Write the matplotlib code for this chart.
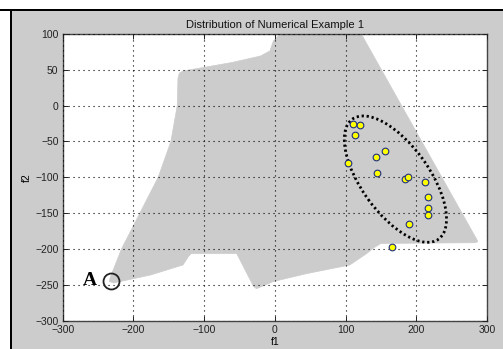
import numpy as np
import matplotlib
matplotlib.use("Agg")
import matplotlib.pyplot as plt
from matplotlib.patches import Polygon, Ellipse, Rectangle

# ---- data ----
region_x = [-233, -217, -191, -165, -147, -138, -137, -135, -130, -60, -20, -7, -2, 5, 16, 122,
            287, 284, 150, 140, 130, 106, 45, -2, -26, -30, -54, -118, -122, -130, -176, -228, -234]
region_y = [-240, -200, -150, -100, -50, 0, 38, 45, 48, 60, 69, 76, 90, 97, 99, 100,
            -189, -191, -192, -198, -206, -222, -234, -245, -255, -252, -206, -206, -210, -222, -236, -247, -245]

pts_f1 = [110, 121, 114, 156, 143, 104, 145, 184, 188, 212, 216, 216, 216, 189, 166]
pts_f2 = [-26, -27, -41, -64, -71, -80, -94, -102, -100, -106, -128, -142, -153, -165, -197]

ellipse_center = (170.5, -102.5)
ellipse_axes = (103.4, 47.7)   # semi-major, semi-minor
ellipse_angle = -53.7

point_A = (-232, -244)

xticks = [-300, -200, -100, 0, 100, 200, 300]
yticks = [-300, -250, -200, -150, -100, -50, 0, 50, 100]

# ---- figure ----
W, H = 503, 349
fig = plt.figure(figsize=(W / 100, H / 100), dpi=100, facecolor="#cccccc")
plt.rcParams['font.family'] = ['Liberation Sans', 'DejaVu Sans']

# window frame (white strip + black line at top and left)
fig.patches.append(Rectangle((0, 1 - 9 / H), 1, 9 / H, transform=fig.transFigure,
                             facecolor="white", edgecolor="none", zorder=0))
fig.patches.append(Rectangle((0, 0), 10 / W, 1, transform=fig.transFigure,
                             facecolor="white", edgecolor="none", zorder=0))
fig.patches.append(Rectangle((0, 1 - 11 / H), 1, 2 / H, transform=fig.transFigure,
                             facecolor="black", edgecolor="none", zorder=1))
fig.patches.append(Rectangle((10 / W, 0), 2 / W, 1 - 9 / H, transform=fig.transFigure,
                             facecolor="black", edgecolor="none", zorder=1))

ax = fig.add_axes([62.7 / W, (H - 321) / H, (487 - 62.7) / W, (321 - 33.7) / H])
ax.set_facecolor("white")

poly = Polygon(np.column_stack([region_x, region_y]), closed=True,
               facecolor="#cccccc", edgecolor="#cccccc", lw=0.5, zorder=1)
ax.add_patch(poly)

ax.set_xlim(-300, 300)
ax.set_ylim(-300, 100)
ax.set_xticks(xticks)
ax.set_yticks(yticks)
ax.grid(True, color="black", linestyle=(0, (1, 3.5)), linewidth=0.8, zorder=2)
ax.set_axisbelow(False)

ell = Ellipse(ellipse_center, 2 * ellipse_axes[0], 2 * ellipse_axes[1], angle=ellipse_angle,
              facecolor="none", edgecolor="black", linestyle=(0, (0.8, 1.0)), lw=2.0, zorder=3)
ax.add_patch(ell)

ax.plot(pts_f1, pts_f2, linestyle="none", marker="o", ms=4.8, mfc="#ffff00",
        mec="#1f2f7f", mew=0.8, zorder=4)

ax.plot([point_A[0]], [point_A[1]], linestyle="none", marker="o", ms=11.5, mfc="none",
        mec="#222222", mew=1.3, zorder=5)
ax.text(point_A[0] - 30, point_A[1] + 1, "A", fontfamily=["Liberation Serif", "DejaVu Serif"],
        fontweight="bold", fontsize=14, ha="center", va="center", zorder=5)

ax.tick_params(direction="in", length=3.5, width=0.7, top=True, right=True,
               labelsize=7.5, colors="#222222", pad=3)
for s in ax.spines.values():
    s.set_color("#444444")
    s.set_linewidth(1.0)

ax.set_title("Distribution of Numerical Example 1", fontsize=8, pad=4, color="#111111")
ax.set_xlabel("f1", fontsize=7.5, labelpad=1)
ax.set_ylabel("f2", fontsize=7.5, labelpad=2)

fig.savefig("out.png", dpi=100, facecolor=fig.get_facecolor())
